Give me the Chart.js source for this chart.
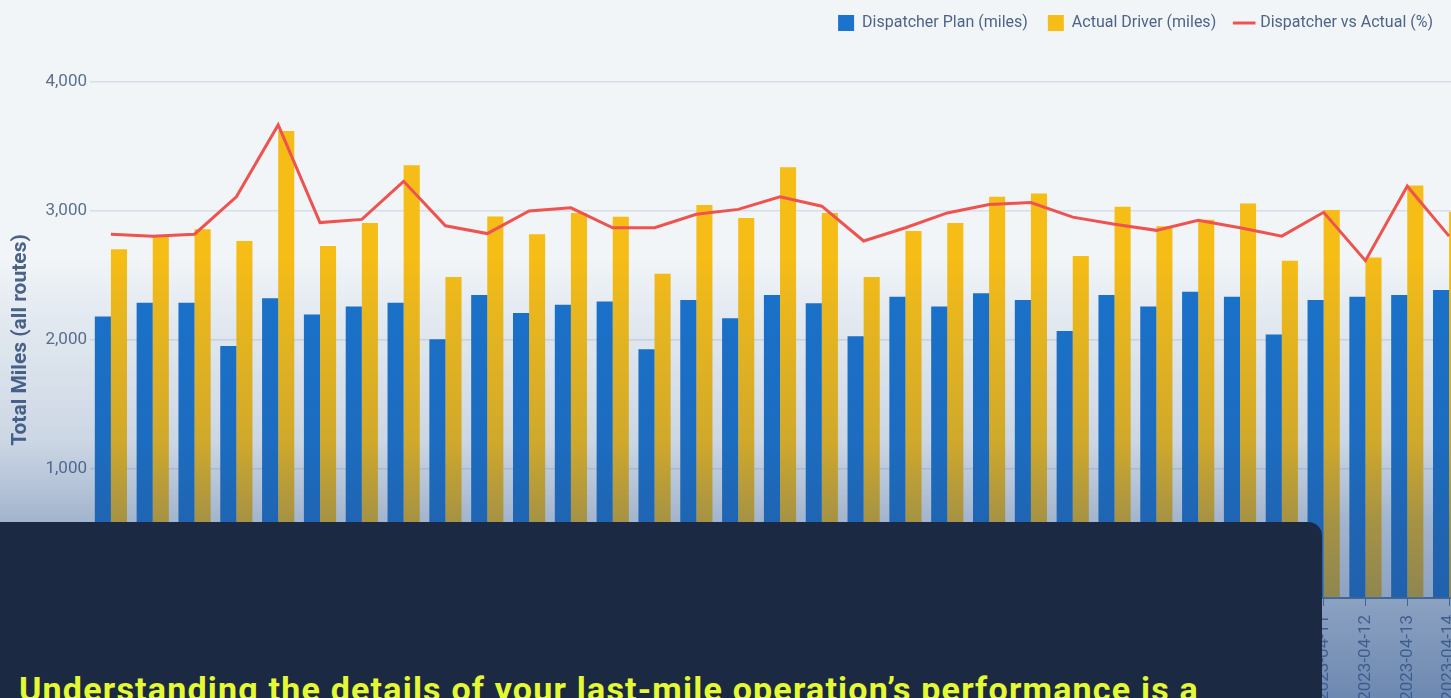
<!DOCTYPE html>
<html>
<head>
<meta charset="utf-8">
<script src="https://cdn.jsdelivr.net/npm/chart.js@4.4.0/dist/chart.umd.min.js"></script>
<style>
  html, body { margin: 0; padding: 0; width: 1451px; height: 698px; overflow: hidden; background: #f1f5f8; }
  #wrap { position: relative; width: 1451px; height: 698px; overflow: hidden; }
  #myChart { position: absolute; left: 0; top: 0; }
  #shade {
    position: absolute; left: 0; top: 0; width: 100%; height: 100%; pointer-events: none;
    background: linear-gradient(to bottom,
      rgba(40, 80, 140, 0) 37%,
      rgba(40, 80, 140, 0.05) 43%,
      rgba(40, 80, 140, 0.18) 63%,
      rgba(40, 80, 140, 0.39) 74.5%,
      rgba(40, 80, 140, 0.5) 85.7%,
      rgba(40, 80, 140, 0.66) 100%);
  }
  #card {
    position: absolute; left: 0; top: 522px; width: 1322px; height: 220px;
    background: #1b2942; border-top-right-radius: 14px;
  }
  #card h2 {
    position: absolute; left: 19px; top: 150px; margin: 0;
    font: 700 34px/34px Roboto, sans-serif; letter-spacing: 1.2px; color: #e4f934; white-space: nowrap;
  }
</style>
</head>
<body>
<div id="wrap">
  <canvas id="myChart" width="1480" height="720"></canvas>
  <div id="shade"></div>
  <div id="card"><h2>Understanding the details of your last-mile operation’s performance is a</h2></div>
</div>
<script>
let dates = ["2023-03-13","2023-03-14","2023-03-15","2023-03-16","2023-03-17","2023-03-18","2023-03-19",
  "2023-03-20","2023-03-21","2023-03-22","2023-03-23","2023-03-24","2023-03-25","2023-03-26",
  "2023-03-27","2023-03-28","2023-03-29","2023-03-30","2023-03-31","2023-04-01","2023-04-02",
  "2023-04-03","2023-04-04","2023-04-05","2023-04-06","2023-04-07","2023-04-08","2023-04-09",
  "2023-04-10","2023-04-11","2023-04-12","2023-04-13","2023-04-14"];
let planMiles = [2182, 2288, 2288, 1953, 2323, 2197, 2259, 2288, 2005, 2349, 2210, 2274, 2298, 1928, 2311, 2169, 2349,
  2285, 2030, 2336, 2259, 2362, 2311, 2069, 2349, 2259, 2375, 2336, 2043, 2311, 2336, 2349, 2388];
let actualMiles = [2704, 2799, 2858, 2768, 3621, 2729, 2907, 3354, 2488, 2958, 2820, 2984, 2956, 2514, 3046, 2945, 3339,
  2984, 2488, 2845, 2907, 3110, 3136, 2652, 3033, 2881, 2932, 3058, 2614, 3007, 2639, 3197, 2994];
let diffPct = [112.8, 112.2, 112.8, 124.4, 146.7, 116.4, 117.4, 129.2, 115.4, 113.0, 120.0, 121.0, 114.8, 114.8, 119.0,
  120.5, 124.4, 121.5, 110.7, 114.8, 119.4, 122.0, 122.6, 118.1, 115.9, 114.0, 117.1, 114.8, 112.2, 119.6, 104.6, 127.7, 112.2];

Chart.defaults.font.family = "Roboto";

// the legend sits at the right edge of the window, the plot runs on past it
const moveLegend = {
  id: "moveLegend",
  afterLayout(chart) {
    const lg = chart.legend;
    const dx = lg.right - 1453;
    lg.left -= dx; lg.right -= dx;
    const dy = lg.top + 5;
    lg.top -= dy; lg.bottom -= dy;
  }
};

new Chart("myChart", {
  type: "bar",
  data: {
    labels: dates,
    datasets: [{
      label: "Dispatcher Plan (miles)",
      data: planMiles,
      backgroundColor: "#1a73cc",
      pointStyle: "rect",
      order: 1
    }, {
      label: "Actual Driver (miles)",
      data: actualMiles,
      backgroundColor: "#f6bd16",
      pointStyle: "rect",
      order: 1
    }, {
      type: "line",
      label: "Dispatcher vs Actual (%)",
      data: diffPct,
      yAxisID: "y1",
      borderColor: "#ef5350",
      backgroundColor: "#ef5350",
      borderWidth: 3,
      pointRadius: 0,
      pointStyle: "line",
      tension: 0,
      order: 0
    }]
  },
  options: {
    responsive: false,
    animation: false,
    devicePixelRatio: 1,
    locale: "en-US",
    layout: { padding: { top: 36, right: 10, bottom: 0, left: 0 } },
    datasets: { bar: { categoryPercentage: 0.77, barPercentage: 1.0 } },
    plugins: {
      legend: {
        align: "end",
        labels: {
          usePointStyle: true,
          color: "#4d6488",
          font: { size: 16 },
          padding: 20,
          sort: (a, b) => a.datasetIndex - b.datasetIndex
        }
      },
      tooltip: { enabled: false }
    },
    scales: {
      x: {
        grid: { drawOnChartArea: false, offset: false, color: "#5a7aa5", tickLength: 8 },
        border: { color: "#5a7aa5", width: 2 },
        ticks: { color: "#5c7190", font: { size: 17 }, minRotation: 90, maxRotation: 90, autoSkip: false, padding: 9 },
        afterFit(s) { s.height = 122; }
      },
      y: {
        min: 0,
        max: 4000,
        ticks: { stepSize: 1000, color: "#5c7190", font: { size: 17 }, padding: 3 },
        grid: { color: "#d6dee7", lineWidth: 1.5, drawTicks: false },
        border: { display: false },
        title: {
          display: true,
          text: "Total Miles (all routes)",
          color: "#4b6389",
          font: { size: 21, weight: "bold" },
          padding: { top: 8, bottom: 0 }
        },
        afterFit(s) { s.width = 90; }
      },
      y1: { display: false, min: 0, max: 160 }
    }
  },
  plugins: [moveLegend]
});
</script>
</body>
</html>
